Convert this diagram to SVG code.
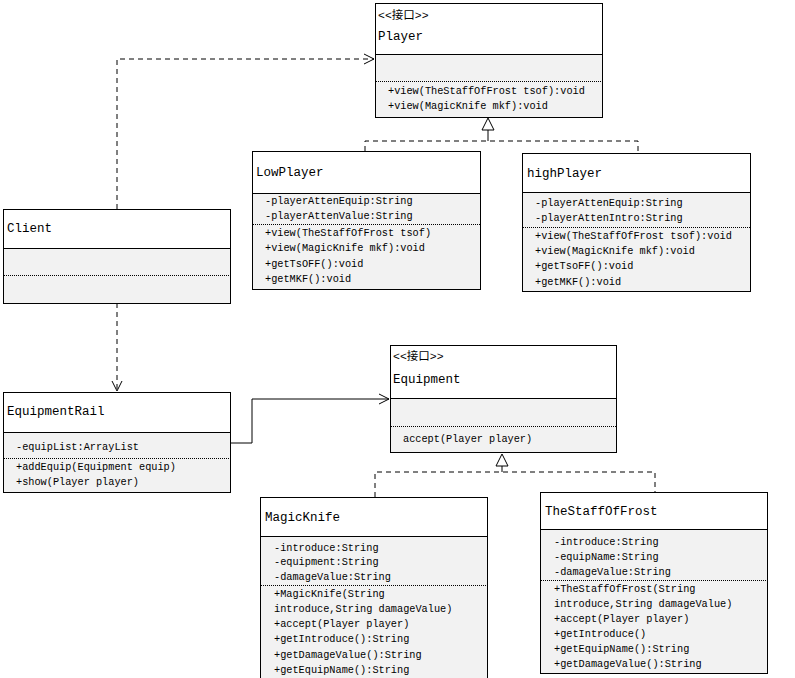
<svg xmlns="http://www.w3.org/2000/svg" width="795" height="678" viewBox="0 0 795 678">
<style>
.box{fill:#f2f2f2;stroke:#000;stroke-width:1}
.hdr{fill:#fff}
.sep{stroke:#000;stroke-width:1}
.dot{stroke:#000;stroke-width:1;stroke-dasharray:1,1}
.t{font-family:"Liberation Mono","Noto Sans CJK SC",monospace;font-size:12.5px;fill:#000}
.st{font-family:"Liberation Mono","Noto Sans CJK SC",monospace;font-size:11.5px;fill:#000}
.m{font-family:"Liberation Mono","Noto Sans CJK SC",monospace;font-size:10.25px;fill:#000}
.dash{fill:none;stroke:#000;stroke-width:1;stroke-dasharray:5,4}
.solid{fill:none;stroke:#000;stroke-width:1}
.tri{fill:#fff;stroke:#000;stroke-width:1}
</style>
<defs>
<marker id="open" markerUnits="userSpaceOnUse" markerWidth="12" markerHeight="12" refX="10" refY="5" orient="auto" overflow="visible">
<path d="M0,0 L10,5 L0,10" fill="none" stroke="#000" stroke-width="1"/>
</marker>
</defs>
<rect width="795" height="678" fill="#fff"/>

<g id="connectors">
<path class="dash" d="M117,209 V59 H374" marker-end="url(#open)"/>
<path class="dash" d="M117,303 V391" marker-end="url(#open)"/>
<path class="dash" d="M365,151 V141 H638 V153"/>
<path class="solid" d="M488,130 V141"/>
<polygon class="tri" points="488,118 482,130 494,130"/>
<path class="solid" d="M230,443 H252 V399 H389" marker-end="url(#open)"/>
<path class="dash" d="M375,497 V472 H655 V492"/>
<path class="solid" d="M502,466 V472"/>
<polygon class="tri" points="502,454 496,466 508,466"/>
</g>

<g id="Player">
<rect class="box" x="375.5" y="3.5" width="227" height="114"/>
<rect class="hdr" x="376" y="4" width="226" height="50"/>
<line class="sep" x1="375" y1="54.5" x2="602" y2="54.5"/>
<line class="dot" x1="376" y1="81.5" x2="602" y2="81.5"/>
<text class="st" x="378" y="19">&lt;&lt;接口&gt;&gt;</text>
<text class="t" x="378" y="40">Player</text>
<text class="m" x="388" y="94">+view(TheStaffOfFrost tsof):void</text>
<text class="m" x="388" y="109">+view(MagicKnife mkf):void</text>
</g>

<g id="LowPlayer">
<rect class="box" x="252.5" y="151.5" width="228" height="138"/>
<rect class="hdr" x="253" y="152" width="227" height="41"/>
<line class="sep" x1="252" y1="193.5" x2="480" y2="193.5"/>
<line class="dot" x1="253" y1="224.5" x2="480" y2="224.5"/>
<text class="t" x="256" y="176">LowPlayer</text>
<text class="m" x="265" y="204">-playerAttenEquip:String</text>
<text class="m" x="265" y="219">-playerAttenValue:String</text>
<text class="m" x="265" y="236">+view(TheStaffOfFrost tsof)</text>
<text class="m" x="265" y="251">+view(MagicKnife mkf):void</text>
<text class="m" x="265" y="267">+getTsOFF():void</text>
<text class="m" x="265" y="282">+getMKF():void</text>
</g>

<g id="highPlayer">
<rect class="box" x="522.5" y="153.5" width="228" height="138"/>
<rect class="hdr" x="523" y="154" width="227" height="38"/>
<line class="sep" x1="522" y1="192.5" x2="750" y2="192.5"/>
<line class="dot" x1="523" y1="227.5" x2="750" y2="227.5"/>
<text class="t" x="527" y="177">highPlayer</text>
<text class="m" x="535" y="206">-playerAttenEquip:String</text>
<text class="m" x="535" y="221">-playerAttenIntro:String</text>
<text class="m" x="535" y="239">+view(TheStaffOfFrost tsof):void</text>
<text class="m" x="535" y="254">+view(MagicKnife mkf):void</text>
<text class="m" x="535" y="269">+getTsoFF():void</text>
<text class="m" x="535" y="285">+getMKF():void</text>
</g>

<g id="Client">
<rect class="box" x="3.5" y="209.5" width="227" height="94"/>
<rect class="hdr" x="4" y="210" width="226" height="38"/>
<line class="sep" x1="3" y1="248.5" x2="230" y2="248.5"/>
<line class="dot" x1="4" y1="275.5" x2="230" y2="275.5"/>
<text class="t" x="7" y="232">Client</text>
</g>

<g id="EquipmentRail">
<rect class="box" x="3.5" y="392.5" width="227" height="100"/>
<rect class="hdr" x="4" y="393" width="226" height="39"/>
<line class="sep" x1="3" y1="432.5" x2="230" y2="432.5"/>
<line class="dot" x1="4" y1="458.5" x2="230" y2="458.5"/>
<text class="t" x="7" y="415">EquipmentRail</text>
<text class="m" x="16" y="450">-equipList:ArrayList</text>
<text class="m" x="16" y="470">+addEquip(Equipment equip)</text>
<text class="m" x="16" y="485">+show(Player player)</text>
</g>

<g id="Equipment">
<rect class="box" x="390.5" y="345.5" width="226" height="107"/>
<rect class="hdr" x="391" y="346" width="225" height="52"/>
<line class="sep" x1="390" y1="398.5" x2="616" y2="398.5"/>
<line class="dot" x1="391" y1="426.5" x2="616" y2="426.5"/>
<text class="st" x="393" y="360">&lt;&lt;接口&gt;&gt;</text>
<text class="t" x="393" y="383">Equipment</text>
<text class="m" x="403" y="442">accept(Player player)</text>
</g>

<g id="MagicKnife">
<rect class="box" x="260.5" y="497.5" width="227" height="190"/>
<rect class="hdr" x="261" y="498" width="226" height="38"/>
<line class="sep" x1="260" y1="536.5" x2="487" y2="536.5"/>
<line class="dot" x1="261" y1="585.5" x2="487" y2="585.5"/>
<text class="t" x="265" y="521">MagicKnife</text>
<text class="m" x="274" y="551">-introduce:String</text>
<text class="m" x="274" y="565">-equipment:String</text>
<text class="m" x="274" y="580">-damageValue:String</text>
<text class="m" x="274" y="597">+MagicKnife(String</text>
<text class="m" x="274" y="612">introduce,String damageValue)</text>
<text class="m" x="274" y="627">+accept(Player player)</text>
<text class="m" x="274" y="642">+getIntroduce():String</text>
<text class="m" x="274" y="658">+getDamageValue():String</text>
<text class="m" x="274" y="673">+getEquipName():String</text>
</g>

<g id="TheStaffOfFrost">
<rect class="box" x="540.5" y="492.5" width="227" height="181"/>
<rect class="hdr" x="541" y="493" width="226" height="36"/>
<line class="sep" x1="540" y1="529.5" x2="767" y2="529.5"/>
<line class="dot" x1="541" y1="580.5" x2="767" y2="580.5"/>
<text class="t" x="545" y="515">TheStaffOfFrost</text>
<text class="m" x="554" y="545">-introduce:String</text>
<text class="m" x="554" y="560">-equipName:String</text>
<text class="m" x="554" y="575">-damageValue:String</text>
<text class="m" x="554" y="592">+TheStaffOfFrost(String</text>
<text class="m" x="554" y="607">introduce,String damageValue)</text>
<text class="m" x="554" y="622">+accept(Player player)</text>
<text class="m" x="554" y="637">+getIntroduce()</text>
<text class="m" x="554" y="652">+getEquipName():String</text>
<text class="m" x="554" y="667">+getDamageValue():String</text>
</g>
</svg>
